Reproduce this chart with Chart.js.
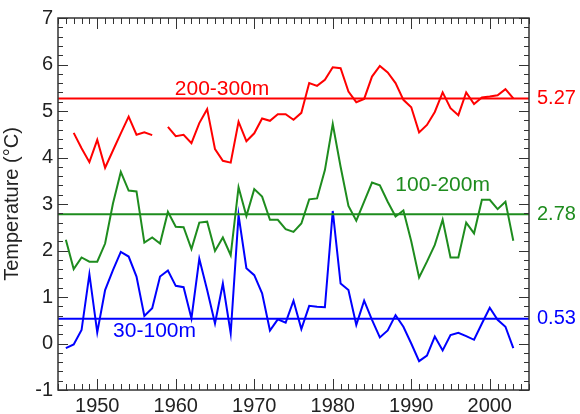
<!DOCTYPE html>
<html>
<head>
<meta charset="utf-8">
<script src="https://cdn.jsdelivr.net/npm/chart.js@4.4.1/dist/chart.umd.min.js"></script>
<style>
html,body{margin:0;padding:0;background:#fff;}
#wrap{width:580px;height:414px;position:relative;}
</style>
</head>
<body>
<div id="wrap"><canvas id="c" width="580" height="414"></canvas></div>
<script>
const years = [];
for (let y = 1946; y <= 2003; y++) years.push(y);

const red200_300 = [null,4.53,4.20,3.90,4.38,3.78,4.15,4.52,4.88,4.49,
  4.54,4.48,null,4.66,4.46,4.49,4.31,4.74,5.04,4.18,
  3.93,3.89,4.77,4.35,4.52,4.84,4.79,4.93,4.93,4.81,
  4.96,5.60,5.54,5.67,5.94,5.92,5.42,5.19,5.26,5.74,
  5.97,5.83,5.60,5.24,5.08,4.54,4.70,4.98,5.40,5.06,
  4.91,5.40,5.15,5.29,5.31,5.34,5.47,5.27];
const green100_200 = [2.23,1.60,1.85,1.76,1.76,2.15,3.01,3.69,3.29,3.27,
  2.17,2.28,2.15,2.83,2.51,2.50,2.03,2.60,2.62,1.99,
  2.28,1.90,3.36,2.74,3.32,3.16,2.66,2.66,2.46,2.40,
  2.58,3.10,3.12,3.73,4.72,3.80,2.96,2.64,3.05,3.46,
  3.40,3.05,2.73,2.86,2.20,1.42,1.76,2.12,2.66,1.85,
  1.85,2.60,2.37,3.09,3.09,2.89,3.05,2.21];
const blue30_100 = [-0.10,-0.02,0.29,1.49,0.24,1.15,1.58,1.97,1.87,1.44,
  0.59,0.76,1.44,1.57,1.24,1.21,0.54,1.82,1.15,0.43,
  1.29,0.22,2.76,1.62,1.47,1.08,0.28,0.52,0.45,0.92,
  0.31,0.81,0.79,0.78,2.85,1.29,1.15,0.40,0.92,0.51,
  0.13,0.28,0.61,0.36,0.00,-0.38,-0.26,0.15,-0.15,0.18,
  0.23,0.16,0.08,0.43,0.77,0.51,0.36,-0.10];
const meanValues = [5.27, 2.78, 0.53];
const seriesNames = ['200-300m', '100-200m', '30-100m'];
const colors = ['#ff0000', '#1e8c1e', '#0000ff'];
const xTickLabels = [1950, 1960, 1970, 1980, 1990, 2000];
const yTickLabels = [-1, 0, 1, 2, 3, 4, 5, 6, 7];
const xRange = [1945, 2005];
const yRange = [-1, 7];

const FONT = '"Liberation Sans", Arial, sans-serif';

function pts(arr) { return years.map((y, i) => ({x: y, y: arr[i]})); }
function meanLine(v) { return [{x: xRange[0], y: v}, {x: xRange[1], y: v}]; }

const seriesArrays = [red200_300, green100_200, blue30_100];
const datasets = [];
seriesArrays.forEach((arr, i) => {
  datasets.push({label: seriesNames[i], data: pts(arr), borderColor: colors[i],
    borderWidth: 2, pointRadius: 0, tension: 0, spanGaps: false, fill: false});
  datasets.push({label: seriesNames[i] + ' mean', data: meanLine(meanValues[i]), borderColor: colors[i],
    borderWidth: 2, pointRadius: 0, tension: 0, fill: false});
});

// annotation anchors (in data units)
const labelAnchors = [
  {x: 1965.9, y: 5.47},
  {x: 1994.0, y: 3.41},
  {x: 1957.3, y: 0.27}
];

const framePlugin = {
  id: 'frame',
  afterDatasetsDraw(chart) {
    const {ctx, chartArea: a, scales: {x, y}} = chart;
    ctx.save();
    ctx.strokeStyle = '#333';
    ctx.lineWidth = 1;
    ctx.beginPath();
    for (let yr = xRange[0]; yr <= xRange[1]; yr++) {
      const px = Math.round(x.getPixelForValue(yr)) + 0.5;
      const len = (yr % 10 === 0) ? 11 : 6;
      ctx.moveTo(px, a.bottom); ctx.lineTo(px, a.bottom - len);
      ctx.moveTo(px, a.top); ctx.lineTo(px, a.top + len);
    }
    for (let k = yRange[0] * 5; k <= yRange[1] * 5; k++) {
      const v = k / 5;
      const py = Math.round(y.getPixelForValue(v)) + 0.5;
      const len = (k % 5 === 0) ? 10 : 5;
      ctx.moveTo(a.left, py); ctx.lineTo(a.left + len, py);
      ctx.moveTo(a.right, py); ctx.lineTo(a.right - len, py);
    }
    ctx.stroke();
    ctx.lineWidth = 1.5;
    ctx.strokeRect(a.left, a.top, a.right - a.left, a.bottom - a.top);

    ctx.font = '21px ' + FONT;
    ctx.textAlign = 'center';
    ctx.textBaseline = 'middle';
    labelAnchors.forEach((p, i) => {
      ctx.fillStyle = colors[i];
      ctx.fillText(seriesNames[i], x.getPixelForValue(p.x), y.getPixelForValue(p.y));
    });
    ctx.font = '20px ' + FONT;
    ctx.textAlign = 'left';
    meanValues.forEach((v, i) => {
      ctx.fillStyle = colors[i];
      ctx.fillText(v.toFixed(2), a.right + 8, y.getPixelForValue(v));
    });
    ctx.restore();
  }
};

new Chart(document.getElementById('c'), {
  type: 'line',
  data: {datasets},
  options: {
    responsive: false,
    animation: false,
    events: [],
    layout: {padding: {left: 0, right: 51, top: 18, bottom: 0}},
    plugins: {legend: {display: false}, tooltip: {enabled: false}},
    scales: {
      x: {
        type: 'linear', min: xRange[0], max: xRange[1],
        grid: {display: false, drawTicks: false},
        border: {display: false},
        afterBuildTicks: s => { s.ticks = xTickLabels.map(v => ({value: v})); },
        afterFit: s => { s.height = 24; },
        ticks: {color: '#222', font: {family: FONT, size: 20}, padding: 4, maxRotation: 0,
          callback: v => String(v)}
      },
      y: {
        type: 'linear', min: yRange[0], max: yRange[1],
        grid: {display: false, drawTicks: false},
        border: {display: false},
        afterBuildTicks: s => { s.ticks = yTickLabels.map(v => ({value: v})); },
        afterFit: s => { s.width = 58; },
        ticks: {color: '#222', font: {family: FONT, size: 20}, padding: 5,
          callback: v => String(v)},
        title: {display: true, text: 'Temperature (°C)', color: '#222',
          font: {family: FONT, size: 20}, padding: {top: 0, bottom: 0}}
      }
    }
  },
  plugins: [framePlugin]
});
</script>
</body>
</html>
